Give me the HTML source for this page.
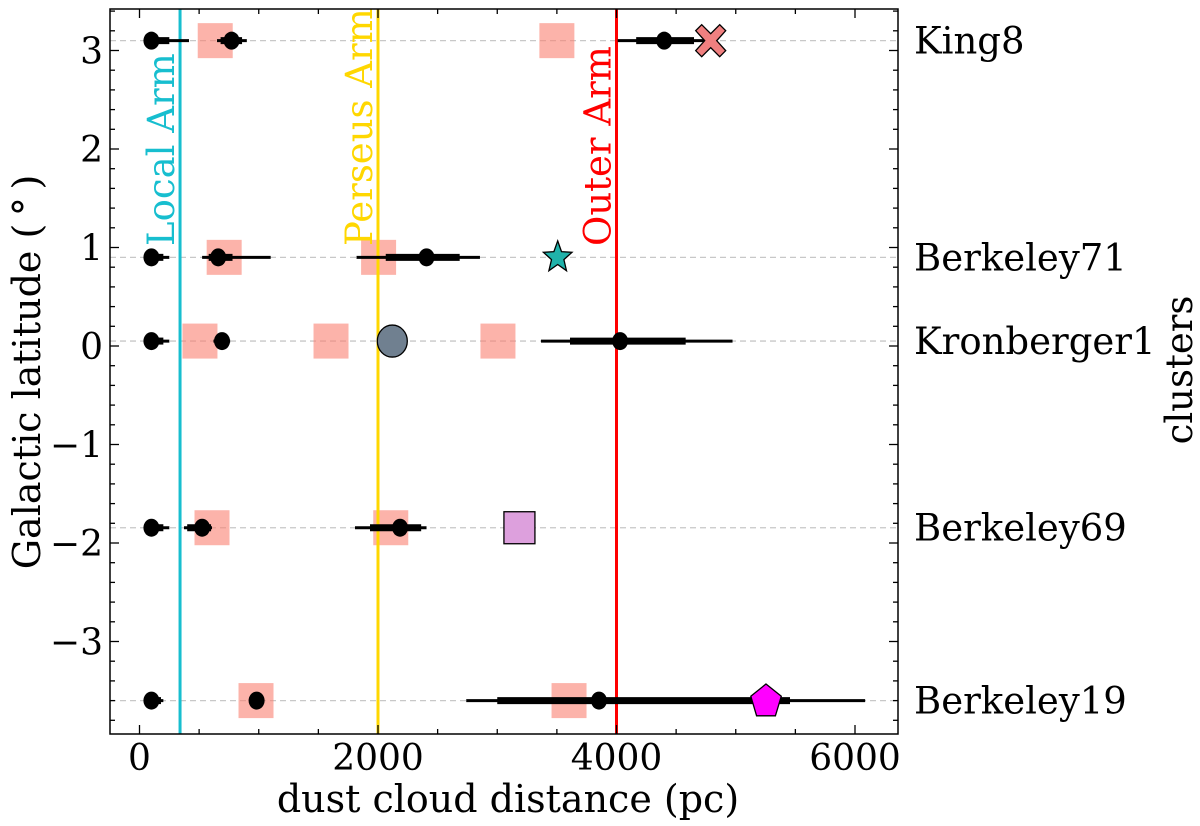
<!DOCTYPE html>
<html><head><meta charset="utf-8"><style>
html,body{margin:0;padding:0;background:#fff;width:1200px;height:826px;overflow:hidden}
svg{display:block}
text{font-family:"DejaVu Serif","Liberation Serif",serif;fill:#000}
</style></head><body>
<svg id="chart" width="1200" height="826" xmlns="http://www.w3.org/2000/svg"></svg>
<script>
const clusters = ["King8","Berkeley71","Kronberger1","Berkeley69","Berkeley19"];
const clusterLat = [3.1,0.9,0.05,-1.845,-3.6];
const xTicks = [0,2000,4000,6000];
const yTicks = [-3,-2,-1,0,1,2,3];
const arms = ["Local Arm","Perseus Arm","Outer Arm"];
const armDist = [340,2000,4000];
const armColor = ["#17becf","#ffd700","#ff0000"];
// dust cloud estimates: [row, dist, thinLo, thinHi, thickLo, thickHi]
const dots = [
 [0,100,60,415,80,250],[0,772,650,900,680,860],[0,4400,4010,4780,4165,4650],
 [1,100,60,250,80,200],[1,660,525,1100,580,780],[1,2407,1820,2855,2065,2685],
 [2,100,60,250,80,200],[2,692,620,760,640,740],[2,4030,3367,4973,3610,4580],
 [3,100,60,250,80,200],[3,525,373,608,400,600],[3,2185,1807,2407,1933,2362],
 [4,100,60,200,80,180],[4,982,930,1030,950,1010],[4,3853,2740,6085,3000,5455]
];
const squareRow = [0,0,1,1,2,2,2,3,3,4,4];
const squareDist = [635,3500,710,2005,507,1606,3006,608,2107,977,3602];
const markerDist = [4790,3507,2120,3186,5254];

const X0=139.5, XS=0.11925, Y0=346, YS=98.5;
const L=110, R=898, T=9, B=734;
const sx=v=>X0+v*XS, sy=v=>Y0-v*YS;
const svg=document.getElementById('chart');
const NS='http://www.w3.org/2000/svg';
function mk(tag,at,parent){const e=document.createElementNS(NS,tag);for(const k in at)e.setAttribute(k,at[k]);(parent||svg).appendChild(e);return e;}

clusterLat.forEach((v,i)=>{
 const g=mk('line',{x1:L,x2:R,y1:sy(v),y2:sy(v),stroke:'#c8c8c8','stroke-width':1.3,'stroke-dasharray':'6,4'});
 
 
});
squareDist.forEach((d,i)=>{
 const r=mk('rect',{x:sx(d)-17.5,y:sy(clusterLat[squareRow[i]])-17.5,width:35,height:35,fill:'#fa8072','fill-opacity':0.6});
 
 
});
arms.forEach((a,i)=>{
 const x=sx(armDist[i]);
 const l=mk('line',{x1:x,x2:x,y1:T,y2:B,stroke:armColor[i],'stroke-width':3});
 
 
 const t=mk('text',{transform:`translate(${x-6},246) rotate(-90)`,'font-size':37,fill:armColor[i]});
 t.style.fill=armColor[i];
 t.textContent=a;
 
 
});
dots.forEach(d=>{
 const y=sy(clusterLat[d[0]]);
 const g=mk('g',{});
 
 
 mk('line',{x1:sx(d[2]),x2:sx(d[3]),y1:y,y2:y,stroke:'#000','stroke-width':3},g);
 mk('line',{x1:sx(d[4]),x2:sx(d[5]),y1:y,y2:y,stroke:'#000','stroke-width':7},g);
 mk('ellipse',{cx:sx(d[1]),cy:y,rx:8,ry:9,fill:'#000'},g);
});
function star(cx,cy,ro,ri){let p=[];for(let k=0;k<10;k++){const r=k%2?ri:ro,a=-Math.PI/2+k*Math.PI/5;p.push((cx+r*Math.cos(a)).toFixed(1)+','+(cy+r*Math.sin(a)*1.1).toFixed(1));}return p.join(' ');}
function pent(cx,cy,r){let p=[];for(let k=0;k<5;k++){const a=-Math.PI/2+k*2*Math.PI/5;p.push((cx+r*Math.cos(a)).toFixed(1)+','+(cy+r*Math.sin(a)*1.1).toFixed(1));}return p.join(' ');}
{
 let x=sx(markerDist[0]),y=sy(clusterLat[0]);
 const m=mk('path',{d:`M${x-9},${y-16} L${x},${y-7} L${x+9},${y-16} L${x+15},${y-10} L${x+6},${y} L${x+15},${y+10} L${x+9},${y+16} L${x},${y+7} L${x-9},${y+16} L${x-15},${y+10} L${x-6},${y} L${x-15},${y-10} Z`,fill:'#f08080',stroke:'#000','stroke-width':1.3});
 
 
 x=sx(markerDist[1]);y=sy(clusterLat[1]);
 const s=mk('polygon',{points:star(x,y,15,6.5),fill:'#20b2aa',stroke:'#000','stroke-width':1.3});
 
 
 x=sx(markerDist[2]);y=sy(clusterLat[2]);
 const c=mk('ellipse',{cx:x,cy:y,rx:15,ry:16,fill:'#708090',stroke:'#000','stroke-width':1.3});
 
 
 x=sx(markerDist[3]);y=sy(clusterLat[3]);
 const q=mk('rect',{x:x-15.5,y:y-16,width:31,height:32,fill:'#dda0dd',stroke:'#000','stroke-width':1.3});
 
 
 x=sx(markerDist[4]);y=sy(clusterLat[4]);
 const p=mk('polygon',{points:pent(x,y+1,16),fill:'#ff00ff',stroke:'#000','stroke-width':1.3});
 
 
}
const fr=mk('rect',{x:L,y:T,width:R-L,height:B-T,fill:'none',stroke:'#000','stroke-width':1.5});


const tg=mk('g',{stroke:'#000','stroke-width':1.3});


for(let v=0;v<=6000;v+=500){const x=sx(v),len=v%2000===0?9:5;mk('line',{x1:x,x2:x,y1:B,y2:B-len},tg);mk('line',{x1:x,x2:x,y1:T,y2:T+len},tg);}
for(let k=-19;k<=17;k++){const v=k/5,y=sy(v);if(y<T||y>B)continue;const len=k%5===0?9:5;mk('line',{x1:L,x2:L+len,y1:y,y2:y},tg);mk('line',{x1:R,x2:R-len,y1:y,y2:y},tg);}
xTicks.forEach(v=>{
 const t=mk('text',{x:sx(v),y:770,'font-size':36,'text-anchor':'middle'});
 t.textContent=v;
 
 
});
yTicks.forEach(v=>{
 const t=mk('text',{x:103,y:sy(v)+13,'font-size':36,'text-anchor':'end'});
 t.textContent=v<0?'\u2212'+(-v):String(v);
 
 
});
clusters.forEach((c,i)=>{
 const t=mk('text',{x:914,y:sy(clusterLat[i])+13,'font-size':37});
 t.textContent=c;
 
 
});
const xt=mk('text',{x:508,y:812,'font-size':38,'text-anchor':'middle'});
xt.textContent='dust cloud distance (pc)';


const yt=mk('text',{transform:'translate(40,372) rotate(-90)','font-size':38,'text-anchor':'middle'});
yt.textContent='Galactic latitude (\u2009\u00b0\u2009)';


const rt=mk('text',{transform:'translate(1192,370) rotate(-90)','font-size':37,'text-anchor':'middle'});
rt.textContent='clusters';


</script>
</body></html>
